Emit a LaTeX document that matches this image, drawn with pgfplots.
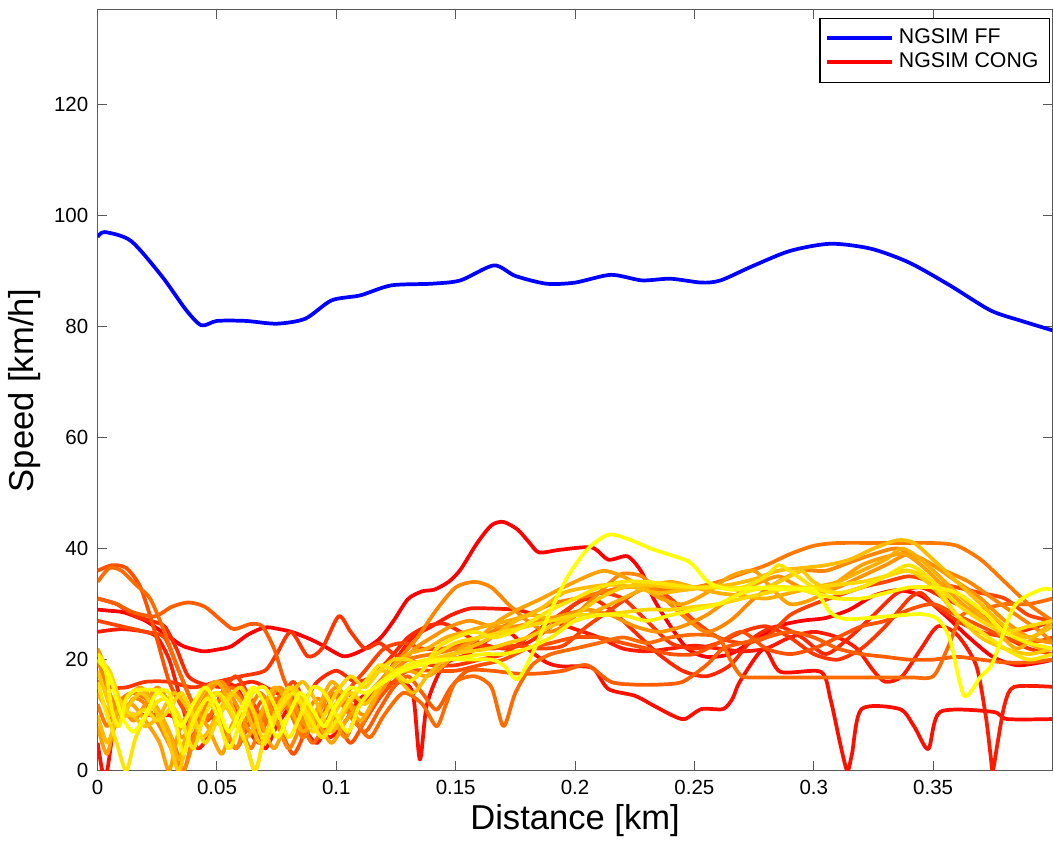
\documentclass[border=0pt]{standalone}
\usepackage{pgfplots}
\pgfplotsset{compat=1.18}
\usepackage{fontspec}
\setmainfont{Liberation Sans}

% autumn colormap, red -> yellow
\definecolor{c0}{rgb}{1,0,0}
\definecolor{c1}{rgb}{1,0.053,0}
\definecolor{c2}{rgb}{1,0.105,0}
\definecolor{c3}{rgb}{1,0.158,0}
\definecolor{c4}{rgb}{1,0.211,0}
\definecolor{c5}{rgb}{1,0.263,0}
\definecolor{c6}{rgb}{1,0.316,0}
\definecolor{c7}{rgb}{1,0.368,0}
\definecolor{c8}{rgb}{1,0.421,0}
\definecolor{c9}{rgb}{1,0.474,0}
\definecolor{c10}{rgb}{1,0.526,0}
\definecolor{c11}{rgb}{1,0.579,0}
\definecolor{c12}{rgb}{1,0.632,0}
\definecolor{c13}{rgb}{1,0.684,0}
\definecolor{c14}{rgb}{1,0.737,0}
\definecolor{c15}{rgb}{1,0.789,0}
\definecolor{c16}{rgb}{1,0.842,0}
\definecolor{c17}{rgb}{1,0.895,0}
\definecolor{c18}{rgb}{1,0.947,0}
\definecolor{c19}{rgb}{1,1,0}

\begin{document}
\begin{tikzpicture}
\begin{axis}[
    scale only axis,
    width=359pt, height=286pt,
    xmin=0, xmax=0.4, ymin=0, ymax=137,
    xtick={0,0.05,0.1,0.15,0.2,0.25,0.3,0.35},
    ytick={0,20,40,60,80,100,120},
    /pgf/number format/.cd, fixed, precision=2, assume math mode=true,
    /pgfplots/.cd,
    tick align=inside, tick pos=both,
    major tick length=3.5pt,
    axis line style={black!65},
    every tick/.style={black!65},
    ticklabel style={font=\fontsize{7.7}{9}\selectfont},
    xlabel={Distance [km]}, ylabel={Speed [km/h]},
    label style={font=\fontsize{13}{15}\selectfont},
    xlabel style={yshift=3pt},
    ylabel style={yshift=-2pt},
    legend style={at={(0.997,0.99)}, anchor=north east, draw=black, fill=white,
        font=\fontsize{8}{10}\selectfont, row sep=-2pt, inner sep=2pt},
    legend cell align=left,
    legend image code/.code={\draw[#1, line width=1.5pt] (0cm,0cm) -- (0.85cm,0cm);},
    every axis plot/.append style={line width=1.4pt, line join=round, smooth, tension=0.45},
]
% free flow
\addplot[color=blue] coordinates {(0,96.1)(0.003,97)(0.014,95.4)(0.027,89)(0.037,83)(0.0435,80.2)(0.05,81)(0.062,81)(0.075,80.5)(0.087,81.4)(0.098,84.7)(0.11,85.6)(0.123,87.4)(0.14,87.7)(0.152,88.3)(0.166,91)(0.175,89.1)(0.188,87.7)(0.2,87.9)(0.215,89.3)(0.228,88.3)(0.24,88.6)(0.253,87.9)(0.261,88.3)(0.274,90.8)(0.29,93.6)(0.307,94.9)(0.324,94)(0.34,91.5)(0.357,87.4)(0.374,82.9)(0.387,81)(0.4,79.3)};
% congested
\addplot[color=c0] coordinates {(0,29)(0.005,28.8)(0.011,28.5)(0.02,27)(0.027,25)(0.032,23.5)(0.036,22.4)(0.044,21.5)(0.05,21.8)(0.056,22.4)(0.063,24.5)(0.07,25.8)(0.076,25.5)(0.082,24.9)(0.09,23.5)(0.095,22.4)(0.103,20.6)(0.11,21.5)(0.118,23.7)(0.124,27)(0.13,30.9)(0.136,32.3)(0.141,32.6)(0.147,34)(0.152,36.2)(0.159,41)(0.165,44.2)(0.17,44.8)(0.176,43.4)(0.181,41)(0.185,39.3)(0.194,39.8)(0.207,40.2)(0.214,38)(0.222,38.6)(0.228,35.7)(0.233,30.9)(0.24,26)(0.247,22)(0.255,20.5)(0.265,21)(0.275,23.5)(0.285,26)(0.295,27)(0.305,27.5)(0.315,29)(0.325,31.5)(0.335,32.5)(0.345,31.5)(0.355,28)(0.365,24)(0.375,20.5)(0.385,19)(0.395,19.5)(0.4,20)};
\addplot[color=c1] coordinates {(0,5)(0.002,0)(0.004,0)(0.007,8)(0.012,10)(0.02,10)(0.03,10)(0.036,9)(0.04,12)(0.045,15)(0.05,16)(0.058,15)(0.064,10)(0.07,4)(0.075,8)(0.082,12)(0.09,10)(0.097,6)(0.104,9)(0.11,13)(0.118,15)(0.126,16)(0.132,14)(0.135,2)(0.138,12)(0.145,19)(0.155,21)(0.165,24)(0.172,25)(0.18,22)(0.188,19.5)(0.194,18.8)(0.2025,18.8)(0.208,18.3)(0.214,14.7)(0.225,13.5)(0.233,11.7)(0.241,9.9)(0.246,9.3)(0.253,11.1)(0.262,11.1)(0.266,13)(0.269,16)(0.279,21.9)(0.286,17.8)(0.303,17.8)(0.307,12.9)(0.311,5)(0.314,0)(0.316,3)(0.32,11.1)(0.336,11.1)(0.342,8)(0.348,3.9)(0.353,10.6)(0.375,10.6)(0.381,9.3)(0.4,9.3)};
\addplot[color=c2] coordinates {(0,25)(0.01,25.5)(0.02,25)(0.025,24)(0.03,20)(0.034,14)(0.038,8)(0.042,4)(0.046,6)(0.05,10)(0.056,12)(0.062,8)(0.068,5)(0.074,9)(0.08,12)(0.086,8)(0.092,5)(0.098,10)(0.104,14)(0.11,12)(0.118,15)(0.125,20)(0.132,24)(0.14,26)(0.148,28)(0.156,29.2)(0.165,29.2)(0.175,29)(0.18,28.5)(0.19,27)(0.2,25.5)(0.21,24)(0.22,22)(0.23,21.5)(0.24,22)(0.25,22.5)(0.26,22)(0.27,21.5)(0.28,22)(0.29,24)(0.3,25)(0.31,24)(0.318,22)(0.325,18)(0.33,16)(0.337,17)(0.345,22)(0.352,26)(0.36,24.5)(0.368,19)(0.372,10)(0.374,3)(0.375,0)(0.377,5)(0.38,12)(0.384,15.1)(0.4,15.1)};
\addplot[color=c3] coordinates {(0,31)(0.008,30)(0.015,28)(0.022,27)(0.028,26)(0.033,22)(0.038,17)(0.045,15.5)(0.055,15)(0.065,16)(0.075,14)(0.085,12)(0.092,16)(0.1,18)(0.108,16)(0.115,17)(0.122,20)(0.13,24)(0.138,26)(0.145,26.5)(0.152,25)(0.16,23)(0.17,22)(0.18,23)(0.19,26)(0.2,30)(0.207,31)(0.215,29)(0.225,25)(0.235,21)(0.245,18)(0.255,17)(0.265,19)(0.275,24)(0.285,26)(0.295,24)(0.305,21)(0.315,24)(0.325,28)(0.335,32)(0.345,33)(0.355,31)(0.365,29)(0.375,27)(0.385,25)(0.4,27)};
\addplot[color=c4] coordinates {(0,16)(0.006,15)(0.012,15)(0.02,16)(0.03,16)(0.04,15)(0.05,16)(0.06,17)(0.07,18)(0.075,21)(0.081,25)(0.088,20.6)(0.094,22)(0.101,27.8)(0.106,25)(0.112,22)(0.118,23)(0.124,21)(0.13,20)(0.14,19)(0.15,19)(0.16,20)(0.17,21)(0.18,24)(0.19,27)(0.2,30)(0.21,32)(0.22,31)(0.23,27)(0.24,23)(0.25,22)(0.26,23)(0.27,25)(0.28,26)(0.29,24)(0.3,21)(0.31,20)(0.32,22)(0.33,26)(0.34,31)(0.345,32)(0.35,30)(0.36,27)(0.37,25)(0.38,24)(0.39,22)(0.4,21)};
\addplot[color=c5] coordinates {(0,27)(0.01,26)(0.02,25)(0.028,24)(0.034,18)(0.04,12)(0.046,9)(0.052,14)(0.058,17)(0.064,13)(0.07,9)(0.076,12)(0.082,16)(0.088,11)(0.094,7)(0.1,11)(0.106,15)(0.112,18)(0.12,22)(0.128,23)(0.136,22)(0.145,22)(0.155,23)(0.165,22)(0.175,22.5)(0.185,22)(0.195,22.5)(0.205,26)(0.215,29)(0.225,32)(0.232,33)(0.24,31)(0.25,27)(0.26,24)(0.27,23)(0.28,24)(0.29,28)(0.3,30)(0.31,31.5)(0.32,33)(0.33,34)(0.34,35)(0.35,34)(0.36,33)(0.37,32)(0.38,31)(0.39,28)(0.4,27)};
\addplot[color=c6] coordinates {(0,36)(0.006,37)(0.012,36.5)(0.018,33)(0.024,25)(0.03,16)(0.036,11)(0.04,9)(0.046,10)(0.052,8)(0.058,4)(0.064,9)(0.07,13)(0.076,8)(0.082,3)(0.088,8)(0.094,12)(0.1,9)(0.106,5)(0.112,9)(0.118,13)(0.124,16)(0.13,18)(0.14,18)(0.15,18)(0.16,19)(0.17,20)(0.18,22)(0.19,23)(0.2,24)(0.21,24)(0.22,23)(0.23,22)(0.24,21)(0.25,21)(0.26,23)(0.27,25)(0.28,22)(0.29,21)(0.3,22)(0.31,24)(0.32,26)(0.33,27)(0.34,29)(0.35,30)(0.36,28)(0.37,26)(0.38,24)(0.39,23)(0.4,24)};
\addplot[color=c7] coordinates {(0,31)(0.008,30)(0.015,28.5)(0.024,27.8)(0.031,29.5)(0.038,30.3)(0.045,29.5)(0.052,27)(0.057,25.5)(0.064,26.4)(0.069,26)(0.074,21.9)(0.078,16.5)(0.083,12)(0.088,8)(0.094,10)(0.1,14)(0.106,10)(0.112,7)(0.118,11)(0.124,15)(0.13,17)(0.136,14)(0.142,11)(0.148,15)(0.155,18)(0.165,18)(0.175,17.5)(0.185,17.5)(0.195,18)(0.205,19)(0.215,16)(0.225,15.5)(0.235,15.5)(0.245,16)(0.255,19)(0.262,22)(0.27,23)(0.28,24)(0.29,25)(0.3,24)(0.31,22)(0.32,21)(0.33,20.5)(0.34,20)(0.35,20)(0.36,20.5)(0.37,20)(0.38,19.5)(0.39,19.5)(0.4,20)};
\addplot[color=c8] coordinates {(0,34)(0.005,36.5)(0.01,36)(0.016,33.5)(0.022,31)(0.028,25)(0.034,18)(0.04,12)(0.045,9)(0.05,12)(0.056,15)(0.062,12)(0.068,7)(0.073,11)(0.078,14)(0.084,10)(0.09,5)(0.096,9)(0.102,13)(0.108,9)(0.114,6)(0.12,10)(0.128,14)(0.136,12)(0.142,8)(0.146,12)(0.15,16)(0.158,17)(0.165,15)(0.17,8)(0.175,14)(0.182,19)(0.19,21)(0.2,22)(0.21,23)(0.22,24)(0.23,23)(0.24,24)(0.25,24.5)(0.26,24)(0.265,20)(0.27,17)(0.28,16.8)(0.3,16.8)(0.32,16.8)(0.34,16.8)(0.35,17)(0.356,22)(0.362,28)(0.37,29)(0.38,30)(0.39,30)(0.4,31)};
\addplot[color=c9] coordinates {(0,12)(0.004,8)(0.008,12)(0.014,14)(0.02,13)(0.026,10)(0.032,5)(0.036,0)(0.04,6)(0.046,12)(0.052,14)(0.058,10)(0.064,4)(0.068,8)(0.074,13)(0.08,11)(0.086,6)(0.092,10)(0.098,14)(0.104,11)(0.11,8)(0.116,13)(0.122,17)(0.13,20)(0.14,21)(0.15,22)(0.16,24)(0.17,26)(0.18,28)(0.19,30)(0.2,31)(0.21,32)(0.22,33)(0.23,33)(0.24,32.5)(0.25,33)(0.26,34)(0.27,35.5)(0.28,37)(0.29,39)(0.3,40.5)(0.31,41)(0.33,41)(0.35,41)(0.36,40.5)(0.37,38)(0.38,34)(0.39,30)(0.4,27)};
\addplot[color=c10] coordinates {(0,20)(0.005,14)(0.01,10)(0.015,13)(0.02,12)(0.026,8)(0.032,3)(0.036,0)(0.04,5)(0.046,12)(0.052,9)(0.058,4)(0.062,9)(0.068,14)(0.074,10)(0.08,4)(0.086,9)(0.092,13)(0.098,10)(0.104,6)(0.11,12)(0.118,16)(0.126,20)(0.134,24)(0.142,29)(0.15,33)(0.158,34)(0.165,33)(0.172,30)(0.18,27)(0.188,25)(0.195,26)(0.205,30)(0.215,34)(0.22,35.5)(0.228,35)(0.235,32)(0.245,28)(0.255,25)(0.265,27)(0.275,31)(0.285,34)(0.295,36)(0.305,36)(0.315,37.5)(0.325,39)(0.335,40)(0.345,38)(0.355,36)(0.365,34)(0.375,31)(0.385,28)(0.395,25)(0.4,23)};
\addplot[color=c11] coordinates {(0,22)(0.005,17)(0.01,12)(0.015,9)(0.02,12)(0.025,15)(0.03,12)(0.035,6)(0.04,9)(0.046,14)(0.052,16)(0.058,12)(0.064,7)(0.07,11)(0.076,15)(0.082,12)(0.088,8)(0.094,12)(0.1,15)(0.106,12)(0.112,10)(0.118,14)(0.125,18)(0.133,22)(0.14,24)(0.148,26)(0.156,27)(0.165,26)(0.175,26)(0.185,27)(0.195,28)(0.205,29)(0.215,28)(0.225,26)(0.235,25)(0.245,26)(0.255,28)(0.265,31)(0.275,33.5)(0.285,35)(0.29,34)(0.3,32)(0.31,33)(0.32,35)(0.33,37)(0.34,39)(0.35,37)(0.36,34)(0.37,31)(0.38,27)(0.39,24)(0.4,23)};
\addplot[color=c12] coordinates {(0,8)(0.004,3)(0.008,10)(0.014,12)(0.02,9)(0.026,5)(0.03,0)(0.034,7)(0.04,11)(0.046,8)(0.052,3)(0.056,8)(0.062,12)(0.068,9)(0.074,4)(0.08,10)(0.086,13)(0.092,9)(0.098,5)(0.104,9)(0.11,12)(0.116,15)(0.122,17)(0.13,18)(0.138,17)(0.145,19)(0.152,22)(0.16,24)(0.168,27)(0.176,29)(0.186,31)(0.195,33)(0.205,35)(0.212,36)(0.22,35)(0.228,33)(0.236,31)(0.245,30)(0.255,32)(0.265,35)(0.275,36)(0.282,33)(0.29,30)(0.3,31)(0.31,34)(0.32,37)(0.33,38.5)(0.338,39)(0.345,37)(0.355,33)(0.365,29)(0.375,26)(0.385,24)(0.395,22)(0.4,22)};
\addplot[color=c13] coordinates {(0,14)(0.006,10)(0.012,13)(0.018,15)(0.024,12)(0.03,7)(0.034,2)(0.038,8)(0.044,14)(0.05,16)(0.056,12)(0.062,6)(0.068,10)(0.074,15)(0.08,12)(0.086,7)(0.092,11)(0.098,16)(0.104,13)(0.11,9)(0.116,13)(0.122,18)(0.13,21)(0.138,22)(0.146,24)(0.154,25)(0.162,26)(0.172,27)(0.182,28)(0.192,27)(0.2,27)(0.21,29)(0.22,31)(0.23,33)(0.24,34)(0.25,33)(0.26,32)(0.27,31.5)(0.28,31)(0.29,32)(0.3,33)(0.31,34)(0.32,36)(0.33,38)(0.337,40)(0.345,38)(0.355,34)(0.365,30)(0.375,26)(0.385,22)(0.395,25)(0.4,27)};
\addplot[color=c14] coordinates {(0,10)(0.004,5)(0.008,9)(0.014,10)(0.02,8)(0.026,10)(0.032,14)(0.038,11)(0.044,6)(0.05,10)(0.056,14)(0.062,11)(0.068,5)(0.074,9)(0.08,13)(0.086,16)(0.092,12)(0.098,7)(0.104,11)(0.11,15)(0.118,18)(0.125,17)(0.132,14)(0.138,17)(0.145,20)(0.155,22)(0.165,24)(0.175,27)(0.185,29)(0.195,32)(0.205,33)(0.215,33.5)(0.225,33)(0.235,32)(0.245,32.5)(0.255,33)(0.265,33.5)(0.275,34.5)(0.285,36)(0.295,36.5)(0.305,37)(0.315,38)(0.325,40)(0.335,41.5)(0.342,41)(0.35,38)(0.36,34)(0.37,30)(0.38,26)(0.39,24)(0.4,26)};
\addplot[color=c15] coordinates {(0,18)(0.004,13)(0.008,8)(0.012,11)(0.018,14)(0.024,11)(0.03,5)(0.034,0)(0.038,6)(0.044,12)(0.05,14)(0.056,10)(0.062,5)(0.066,0)(0.07,6)(0.076,12)(0.082,15)(0.088,11)(0.094,6)(0.1,11)(0.106,14)(0.112,12)(0.118,15)(0.124,18)(0.132,19)(0.14,20)(0.148,21)(0.156,21.5)(0.164,22)(0.172,23)(0.18,24)(0.19,26)(0.2,28)(0.21,31)(0.22,33)(0.23,33.5)(0.24,33)(0.25,33)(0.26,33)(0.27,32.5)(0.28,33)(0.29,35)(0.295,36)(0.3,34)(0.31,32)(0.32,33)(0.33,35)(0.34,36)(0.35,33)(0.36,28)(0.37,24)(0.38,22)(0.39,21)(0.4,22)};
\addplot[color=c16] coordinates {(0,20)(0.005,18)(0.01,12)(0.015,10)(0.02,11)(0.025,9)(0.03,11)(0.035,14)(0.04,10)(0.045,5)(0.05,9)(0.055,13)(0.06,15)(0.065,11)(0.07,5)(0.075,10)(0.08,15)(0.085,12)(0.09,7)(0.095,10)(0.1,14)(0.106,17)(0.112,15)(0.118,18)(0.124,20)(0.13,20)(0.136,19)(0.142,21)(0.15,23)(0.16,24)(0.17,25)(0.18,26)(0.19,27)(0.2,28)(0.21,28)(0.22,28.5)(0.23,29)(0.24,29)(0.25,29.5)(0.26,30)(0.27,31)(0.28,32)(0.29,33)(0.3,33)(0.31,33.5)(0.32,34)(0.33,35)(0.34,36)(0.35,34)(0.36,30)(0.37,27)(0.38,25)(0.39,26)(0.4,27)};
\addplot[color=c17] coordinates {(0,16)(0.004,10)(0.008,5)(0.012,0)(0.016,6)(0.022,11)(0.028,13)(0.034,10)(0.04,4)(0.044,9)(0.05,14)(0.056,11)(0.062,5)(0.066,0)(0.07,6)(0.076,11)(0.082,14)(0.088,10)(0.094,6)(0.1,9)(0.106,13)(0.112,16)(0.118,19)(0.124,18)(0.13,16)(0.136,18)(0.142,22)(0.15,24)(0.158,25)(0.166,24)(0.174,25)(0.182,27)(0.19,29)(0.2,31)(0.21,33)(0.22,34)(0.23,34)(0.24,33.5)(0.25,33)(0.26,33)(0.27,33)(0.28,35)(0.285,37)(0.29,36)(0.3,33)(0.31,32)(0.32,33)(0.33,35)(0.34,37)(0.35,34)(0.36,28)(0.37,25)(0.38,22)(0.39,20)(0.4,21)};
\addplot[color=c18] coordinates {(0,21)(0.003,19)(0.006,11)(0.009,8)(0.012,13)(0.016,14.5)(0.025,14.5)(0.03,14)(0.033,8)(0.036,3)(0.04,9)(0.046,13)(0.05,10)(0.055,4)(0.06,9)(0.065,14)(0.07,15)(0.075,11)(0.08,6)(0.085,10)(0.09,15)(0.095,14)(0.1,10)(0.105,7)(0.11,12)(0.116,15)(0.122,17)(0.13,19)(0.138,20)(0.146,20)(0.154,20.5)(0.162,21)(0.17,21)(0.18,22)(0.19,24)(0.2,27)(0.21,28)(0.22,28)(0.23,27)(0.24,28)(0.25,29)(0.26,30)(0.27,32)(0.28,33)(0.29,33)(0.3,32)(0.31,31)(0.32,31)(0.33,32)(0.34,33)(0.35,33)(0.36,32)(0.37,29)(0.38,25)(0.39,23)(0.4,22)};
\addplot[color=c19] coordinates {(0,20)(0.005,17)(0.01,10)(0.015,7)(0.02,10)(0.025,14)(0.03,12)(0.035,8)(0.04,12)(0.045,15)(0.05,12)(0.055,7)(0.06,11)(0.065,15)(0.07,12)(0.075,6)(0.08,10)(0.085,14)(0.09,11)(0.095,8)(0.1,12)(0.106,15)(0.112,14)(0.12,16)(0.127,17.8)(0.135,19)(0.145,20)(0.155,20)(0.165,20)(0.17,19)(0.176,16.5)(0.183,21.9)(0.19,29)(0.197,35)(0.205,39.8)(0.214,42.5)(0.223,41.6)(0.233,39.8)(0.246,38)(0.25,36.8)(0.256,33.9)(0.265,32.6)(0.275,33)(0.289,32.6)(0.3,32.6)(0.307,28.5)(0.314,27.3)(0.331,27.8)(0.345,28.2)(0.352,27.3)(0.357,23.7)(0.363,13.5)(0.37,17)(0.375,19.5)(0.384,29.6)(0.395,32.6)(0.4,32.6)};
\legend{NGSIM FF, NGSIM CONG}
\end{axis}
\path (current axis.north) -- ++(0,3.75pt);
\end{tikzpicture}
\end{document}
